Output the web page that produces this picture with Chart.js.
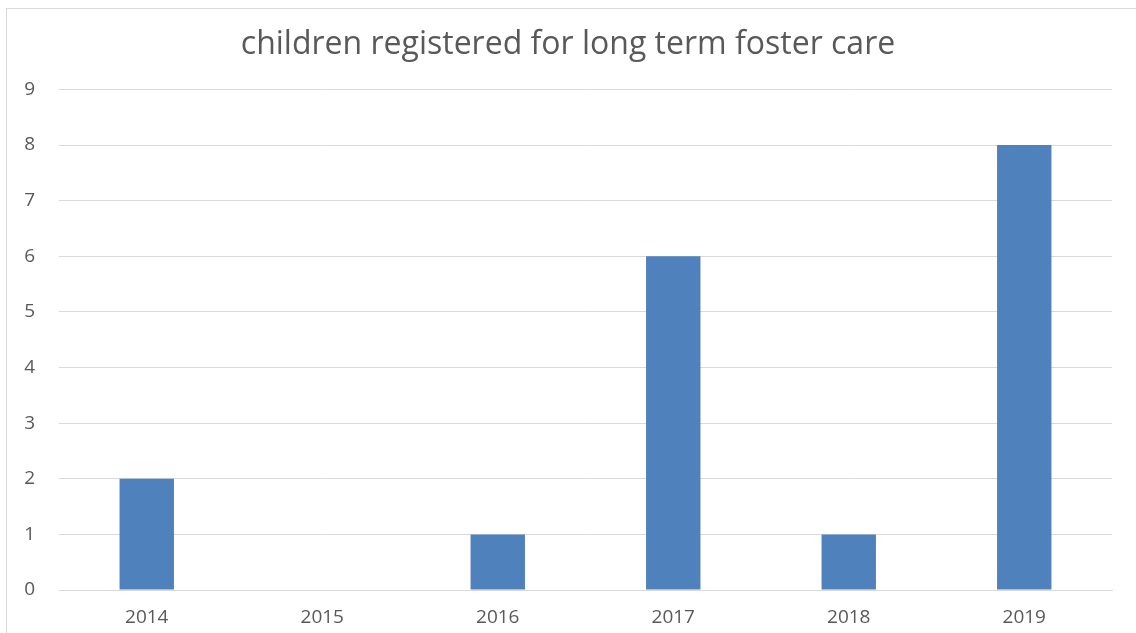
<!DOCTYPE html>
<html>
<head>
<meta charset="utf-8">
<script src="https://cdn.jsdelivr.net/npm/chart.js@4"></script>
<style>
  html, body { margin: 0; padding: 0; background: #fff; overflow: hidden; }
  #frame { position: absolute; left: 6px; top: 8px; width: 1400px; height: 900px; border: 1px solid #d9d9d9; }
  #wrap { position: absolute; left: 0; top: 0; width: 1136px; height: 633px; }
</style>
</head>
<body>
<div id="frame"></div>
<div id="wrap"><canvas id="chart"></canvas></div>
<script>
const years = ["2014", "2015", "2016", "2017", "2018", "2019"];
const children = [2, 0, 1, 6, 1, 8];
const chartTitle = "children registered for long term foster care";

const textColor = "#595959";
const gridColor = "#d9d9d9";

Chart.defaults.font.family = "'Open Sans', sans-serif";

new Chart(document.getElementById("chart"), {
  type: "bar",
  data: {
    labels: years,
    datasets: [{
      label: "children",
      data: children,
      backgroundColor: "#4F81BD",
      barPercentage: 0.31,
      categoryPercentage: 1
    }]
  },
  options: {
    responsive: true,
    maintainAspectRatio: false,
    animation: false,
    layout: { padding: 0 },
    plugins: {
      legend: { display: false },
      tooltip: { enabled: false },
      title: {
        display: true,
        text: chartTitle,
        color: textColor,
        font: { size: 32, weight: "normal", lineHeight: 1.2 },
        padding: { top: 26, bottom: 25 }
      }
    },
    scales: {
      x: {
        grid: { display: false, drawTicks: false },
        border: { display: true, color: gridColor, width: 1 },
        ticks: { color: textColor, font: { size: 19 }, padding: 16 },
        afterFit: scale => { scale.height = 43; }
      },
      y: {
        min: 0,
        max: 9,
        ticks: { stepSize: 1, color: textColor, font: { size: 19 }, padding: 24 },
        grid: { color: gridColor, lineWidth: 1, drawTicks: false },
        border: { display: false },
        afterFit: scale => { scale.width = 59; }
      },
      // empty right-side spacer so the title stays centred on the whole width
      yRight: {
        position: "right",
        min: 0,
        max: 9,
        ticks: { display: false },
        grid: { display: false, drawTicks: false },
        border: { display: false },
        afterFit: scale => { scale.width = 24; }
      }
    }
  }
});
</script>
</body>
</html>
